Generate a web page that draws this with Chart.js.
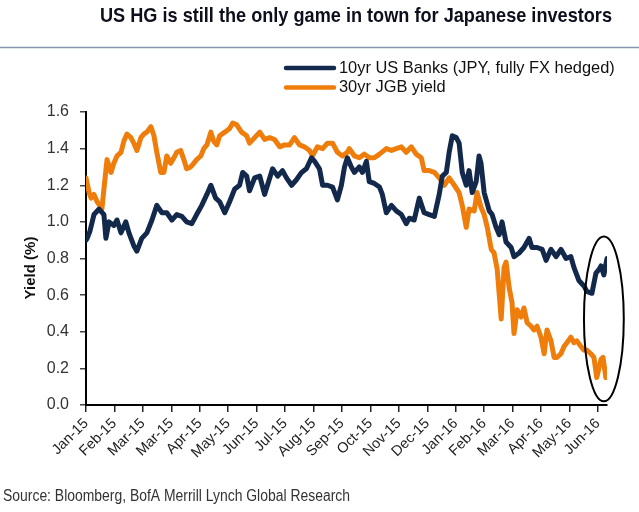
<!DOCTYPE html>
<html>
<head>
<meta charset="utf-8">
<script src="https://cdn.jsdelivr.net/npm/chart.js@4.4.1/dist/chart.umd.min.js"></script>
<style>
  html, body { margin: 0; padding: 0; background: #fff; }
  #wrap { width: 639px; height: 512px; position: relative; }
</style>
</head>
<body>
<div id="wrap"><canvas id="chart" width="639" height="512"></canvas></div>
<script>
// tick labels as printed on the x axis (one per tick, Mar-15 appears twice)
const tickLabels = ['Jan-15', 'Feb-15', 'Mar-15', 'Mar-15', 'Apr-15', 'May-15', 'Jun-15', 'Jul-15',
  'Aug-15', 'Sep-15', 'Oct-15', 'Nov-15', 'Dec-15', 'Jan-16', 'Feb-16', 'Mar-16', 'Apr-16', 'May-16', 'Jun-16'];

// x = position in tick intervals since the Jan-15 tick
const usBanksX = [0.00, 0.04, 0.14, 0.28, 0.46, 0.63, 0.70, 0.81, 0.98, 1.09, 1.23, 1.40, 1.51, 1.68, 1.79, 1.96,
  2.14, 2.32, 2.49, 2.67, 2.84, 3.02, 3.19, 3.37, 3.54, 3.72, 3.89, 4.07, 4.25, 4.39, 4.56, 4.70, 4.88, 5.05,
  5.23, 5.40, 5.51, 5.65, 5.75, 5.93, 6.11, 6.28, 6.46, 6.56, 6.74, 6.91, 7.05, 7.23, 7.40, 7.58, 7.75, 7.93,
  8.04, 8.21, 8.32, 8.49, 8.67, 8.84, 8.98, 9.09, 9.19, 9.33, 9.44, 9.61, 9.72, 9.86, 9.96, 10.14, 10.32, 10.42,
  10.56, 10.74, 10.91, 11.09, 11.26, 11.37, 11.54, 11.72, 11.89, 12.07, 12.25, 12.42, 12.53, 12.67, 12.77, 12.88,
  13.02, 13.12, 13.23, 13.37, 13.47, 13.58, 13.72, 13.82, 13.89, 14.00, 14.18, 14.28, 14.42, 14.53, 14.63, 14.77,
  14.95, 15.05, 15.23, 15.40, 15.58, 15.68, 15.86, 16.04, 16.18, 16.35, 16.53, 16.70, 16.88, 17.05, 17.16, 17.33,
  17.51, 17.61, 17.79, 17.93, 18.04, 18.11, 18.21, 18.32];
const usBanks = [0.90, 0.91, 0.95, 1.04, 1.07, 1.04, 0.91, 1.00, 0.98, 1.01, 0.94, 1.00, 0.94, 0.87, 0.84, 0.91,
  0.94, 1.01, 1.09, 1.05, 1.05, 1.01, 1.04, 1.03, 1.00, 0.99, 1.04, 1.09, 1.15, 1.20, 1.13, 1.11, 1.05, 1.11,
  1.18, 1.20, 1.27, 1.25, 1.17, 1.24, 1.25, 1.15, 1.24, 1.29, 1.25, 1.28, 1.24, 1.20, 1.23, 1.27, 1.29, 1.35,
  1.33, 1.29, 1.20, 1.20, 1.19, 1.12, 1.20, 1.30, 1.35, 1.30, 1.27, 1.30, 1.27, 1.33, 1.22, 1.21, 1.19, 1.15,
  1.05, 1.09, 1.06, 1.04, 0.99, 1.02, 1.01, 1.13, 1.05, 1.04, 1.03, 1.15, 1.25, 1.27, 1.38, 1.47,
  1.46, 1.43, 1.27, 1.20, 1.28, 1.16, 1.22, 1.36, 1.32, 1.16, 1.06, 1.04, 0.97, 0.93, 1.00, 0.89,
  0.86, 0.81, 0.83, 0.86, 0.91, 0.86, 0.86, 0.85, 0.79, 0.85, 0.81, 0.85, 0.80, 0.81, 0.75, 0.68,
  0.65, 0.62, 0.61, 0.72, 0.74, 0.76, 0.71, 0.80];

const jgbX = [0.00, 0.11, 0.18, 0.28, 0.39, 0.53, 0.56, 0.63, 0.74, 0.88, 0.98, 1.09, 1.23, 1.33, 1.44, 1.58,
  1.68, 1.79, 1.93, 2.04, 2.14, 2.28, 2.39, 2.49, 2.63, 2.74, 2.84, 2.98, 3.09, 3.19, 3.33, 3.44, 3.54, 3.68,
  3.79, 3.89, 4.04, 4.14, 4.25, 4.39, 4.49, 4.60, 4.70, 4.88, 5.05, 5.16, 5.30, 5.47, 5.65, 5.75, 5.93, 6.11,
  6.28, 6.46, 6.63, 6.81, 6.98, 7.16, 7.33, 7.51, 7.68, 7.86, 7.96, 8.14, 8.32, 8.49, 8.67, 8.84, 9.02, 9.19,
  9.26, 9.44, 9.61, 9.79, 9.96, 10.14, 10.32, 10.56, 10.74, 10.91, 11.09, 11.26, 11.44, 11.61, 11.79, 11.89,
  12.07, 12.25, 12.42, 12.60, 12.77, 12.95, 13.12, 13.23, 13.37, 13.47, 13.65, 13.75, 13.89, 14.00, 14.11, 14.25,
  14.35, 14.46, 14.60, 14.70, 14.77, 14.88, 14.98, 15.05, 15.16, 15.30, 15.40, 15.51, 15.65, 15.75, 15.86, 16.00,
  16.11, 16.21, 16.35, 16.46, 16.56, 16.70, 16.81, 16.91, 17.05, 17.16, 17.26, 17.40, 17.51, 17.61, 17.75, 17.86,
  17.96, 18.11, 18.18, 18.28];
const jgb = [1.24, 1.16, 1.13, 1.15, 1.11, 1.08, 1.07, 1.18, 1.34, 1.27, 1.32, 1.36, 1.38, 1.44, 1.48, 1.46,
  1.43, 1.39, 1.46, 1.48, 1.49, 1.52, 1.47, 1.38, 1.27, 1.27, 1.36, 1.32, 1.35, 1.38, 1.39, 1.34, 1.29, 1.30,
  1.32, 1.34, 1.36, 1.40, 1.42, 1.49, 1.44, 1.42, 1.47, 1.49, 1.51, 1.54, 1.53, 1.49, 1.47, 1.43, 1.46, 1.49,
  1.45, 1.46, 1.45, 1.41, 1.42, 1.42, 1.46, 1.42, 1.41, 1.39, 1.36, 1.41, 1.40, 1.43, 1.43, 1.38, 1.36, 1.38,
  1.40, 1.36, 1.35, 1.37, 1.35, 1.35, 1.37, 1.40, 1.39, 1.40, 1.41, 1.38, 1.41, 1.37, 1.35, 1.28,
  1.28, 1.27, 1.24, 1.20, 1.24, 1.20, 1.16, 1.09, 0.97, 1.07, 1.06, 1.16, 1.08, 1.04, 0.97, 0.85,
  0.83, 0.74, 0.47, 0.75, 0.78, 0.64, 0.56, 0.39, 0.52, 0.48, 0.53, 0.45, 0.43, 0.41, 0.43, 0.37,
  0.28, 0.41, 0.35, 0.26, 0.26, 0.28, 0.32, 0.34, 0.37, 0.34, 0.35, 0.32, 0.30, 0.30, 0.28, 0.26,
  0.15, 0.25, 0.26, 0.15];

const seriesNames = ['10yr US Banks (JPY, fully FX hedged)', '30yr JGB yield'];
const navy = '#13294b';
const orange = '#ef7d0b';

const toPoints = (xs, ys) => xs.map((x, i) => ({ x: x, y: ys[i] }));

// draw text squeezed to a given width (stands in for the condensed house font)
function fitText(ctx, text, left, y, width) {
  const w = ctx.measureText(text).width;
  ctx.save();
  ctx.translate(left, y);
  ctx.scale(width / w, 1);
  ctx.textAlign = 'left';
  ctx.fillText(text, 0, 0);
  ctx.restore();
}

// title, rule, legend, axis title, source and the circled end of the series
const decorations = {
  id: 'decorations',
  beforeDraw(chart) {
    const ctx = chart.ctx;
    ctx.save();
    ctx.fillStyle = '#fff';
    ctx.fillRect(0, 0, chart.width, chart.height);

    ctx.fillStyle = '#0d0f1c';
    ctx.font = 'bold 21px "Liberation Sans", Arial, sans-serif';
    ctx.textBaseline = 'alphabetic';
    fitText(ctx, 'US HG is still the only game in town for Japanese investors', 100, 22, 512);

    ctx.strokeStyle = '#8596b0';
    ctx.lineWidth = 1.5;
    ctx.beginPath();
    ctx.moveTo(0, 47.5);
    ctx.lineTo(chart.width, 47.5);
    ctx.stroke();

    // legend
    const colors = [navy, orange];
    ctx.font = '16.4px "Liberation Sans", Arial, sans-serif';
    ctx.textAlign = 'left';
    ctx.textBaseline = 'middle';
    seriesNames.forEach((name, i) => {
      const y = 68 + i * 19.5;
      ctx.strokeStyle = colors[i];
      ctx.lineWidth = 4.5;
      ctx.lineCap = 'round';
      ctx.beginPath();
      ctx.moveTo(286, y);
      ctx.lineTo(334, y);
      ctx.stroke();
      ctx.fillStyle = '#111';
      ctx.fillText(name, 339, y);
    });

    // y axis title
    ctx.save();
    ctx.translate(31, 268);
    ctx.rotate(-Math.PI / 2);
    ctx.textAlign = 'center';
    ctx.font = 'bold 15px "Liberation Sans", Arial, sans-serif';
    ctx.fillStyle = '#111';
    ctx.fillText('Yield (%)', 0, 0);
    ctx.restore();

    // source
    ctx.font = '16px "Liberation Sans", Arial, sans-serif';
    ctx.fillStyle = '#333';
    fitText(ctx, 'Source: Bloomberg, BofA Merrill Lynch Global Research', 3, 497, 347);
    ctx.restore();
  },
  afterDatasetsDraw(chart) {
    const { x, y } = chart.scales;
    const cx = x.getPixelForValue(18.21);
    const cy = y.getPixelForValue(0.47);
    const rx = x.getPixelForValue(18.91) - cx;
    const ry = y.getPixelForValue(0.02) - cy;
    const ctx = chart.ctx;
    ctx.save();
    ctx.strokeStyle = '#000';
    ctx.lineWidth = 2;
    ctx.beginPath();
    ctx.ellipse(cx, cy, rx, ry, 0, 0, Math.PI * 2);
    ctx.stroke();
    ctx.restore();
  }
};

new Chart(document.getElementById('chart').getContext('2d'), {
  type: 'line',
  data: {
    datasets: [
      {
        label: seriesNames[0],
        data: toPoints(usBanksX, usBanks),
        borderColor: navy,
        borderWidth: 5,
        pointRadius: 0,
        tension: 0,
        borderJoinStyle: 'round',
        borderCapStyle: 'round'
      },
      {
        label: seriesNames[1],
        data: toPoints(jgbX, jgb),
        borderColor: orange,
        borderWidth: 5,
        pointRadius: 0,
        tension: 0,
        borderJoinStyle: 'round',
        borderCapStyle: 'round'
      }
    ]
  },
  options: {
    responsive: false,
    animation: false,
    layout: { padding: { top: 112, right: 32, left: 0, bottom: 0 } },
    plugins: { legend: { display: false }, tooltip: { enabled: false } },
    scales: {
      x: {
        type: 'linear',
        min: 0,
        max: 18.32,
        afterFit: (s) => { s.height = 107; },
        border: { color: '#000', width: 2 },
        grid: { drawOnChartArea: false, drawTicks: true, tickLength: 7, color: '#222', lineWidth: 1.5 },
        ticks: {
          stepSize: 1,
          includeBounds: false,
          autoSkip: false,
          maxRotation: 45,
          minRotation: 45,
          padding: 3,
          color: '#222',
          font: { family: '"Liberation Sans", Arial, sans-serif', size: 14.5 },
          callback: (v) => tickLabels[Math.round(v)]
        }
      },
      y: {
        min: 0,
        max: 1.6,
        afterFit: (s) => { s.width = 86; },
        border: { color: '#000', width: 2 },
        grid: { drawOnChartArea: false, drawTicks: true, tickLength: 6, color: '#444', lineWidth: 1.5 },
        ticks: {
          stepSize: 0.2,
          padding: 11,
          color: '#333',
          font: { family: '"Liberation Sans", Arial, sans-serif', size: 16 },
          callback: (v) => v.toFixed(1)
        }
      }
    }
  },
  plugins: [decorations]
});
</script>
</body>
</html>
